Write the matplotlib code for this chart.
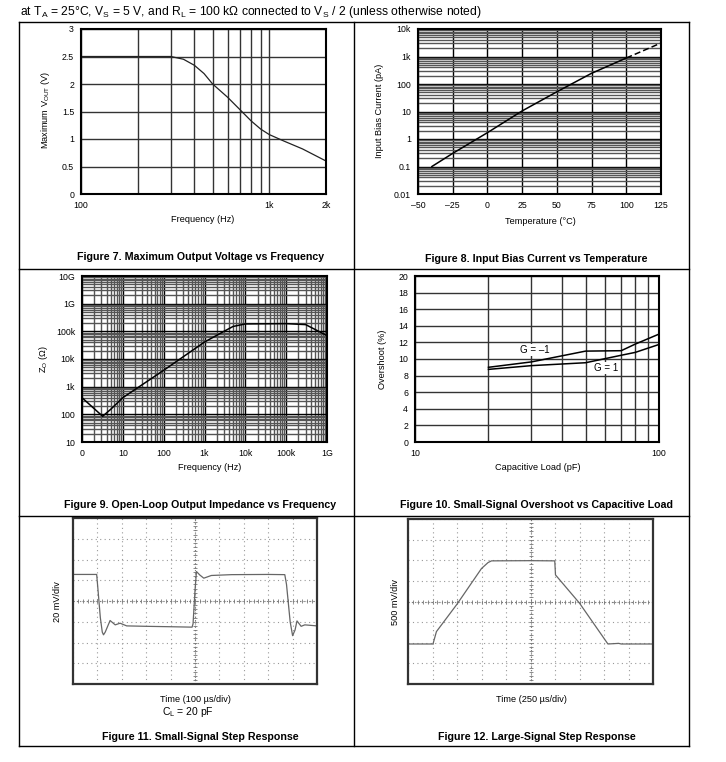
import numpy as np
import matplotlib.pyplot as plt
from matplotlib.lines import Line2D
from matplotlib.ticker import FixedLocator, NullFormatter, LogLocator

plt.rcParams['font.family'] = ['Liberation Sans', 'DejaVu Sans']
plt.rcParams['mathtext.fontset'] = 'custom'
plt.rcParams['mathtext.rm'] = 'Liberation Sans'

W, H = 726, 762                                                   # figure size in pixels
TICK, LABEL, CAPTION = 6.3, 6.6, 7.7                              # font sizes

# Figure 7 - maximum output voltage vs frequency
f7_freq = [100, 300, 350, 400, 450, 500, 600, 700, 800, 900, 1000, 1200, 1500, 2000]
f7_vout = [2.5, 2.5, 2.45, 2.34, 2.19, 2.0, 1.76, 1.53, 1.33, 1.18, 1.08, 0.96, 0.82, 0.6]

# Figure 8 - input bias current vs temperature
f8_temp = [-40, -25, 0, 25, 50, 75, 100]
f8_ib = [0.1, 0.3, 1.7, 10.5, 52, 245, 880]
f8_temp_ext = [100, 125]                                          # dashed extrapolation
f8_ib_ext = [880, 3100]

# Figure 9 - open-loop output impedance vs frequency
f9_freq = [1, 3.2, 5, 10, 100, 1000, 3000, 5000, 10000, 100000, 300000, 1000000]
f9_z = [400, 85, 150, 400, 3900, 41000, 100000, 150000, 185000, 190000, 175000, 70000]
f9_xlabels = ['0', '10', '100', '1k', '10k', '100k', '1G']
f9_ylabels = ['10', '100', '1k', '10k', '100k', '1G', '10G']

# Figure 10 - small-signal overshoot vs capacitive load
f10_cap = [20, 30, 50, 70, 80, 100]
f10_gm1 = [9.0, 9.65, 10.95, 11.0, 11.8, 13.0]
f10_g1 = [8.75, 9.2, 9.55, 10.45, 10.8, 11.75]

# Figure 11 - small-signal step (divisions)
f11_t = [0, 0.97, 1.02, 1.12, 1.2, 1.25, 1.32, 1.52, 1.73, 1.93, 2.2, 3.0, 4.0, 4.88,
         4.92, 5.0, 5.06, 5.2, 5.36, 5.67, 6.5, 8.0, 8.68, 8.75, 8.9, 9.0, 9.1, 9.18,
         9.35, 9.5, 10]
f11_v = [5.28, 5.28, 4.6, 3.2, 2.5, 2.37, 2.5, 3.06, 2.85, 2.93, 2.8, 2.78, 2.76, 2.74,
         2.9, 4.5, 5.42, 5.25, 5.1, 5.23, 5.27, 5.28, 5.27, 4.8, 3.0, 2.33, 2.6, 3.04,
         2.78, 2.85, 2.8]

# Figure 12 - large-signal step (divisions)
f12_t = [0, 1.02, 1.16, 2.0, 3.0, 3.27, 3.41, 5.0, 5.99, 6.02, 7.0, 8.16, 8.6, 8.7, 10]
f12_v = [1.94, 1.94, 2.54, 3.87, 5.6, 5.89, 5.97, 5.98, 5.97, 5.29, 3.92, 1.94, 1.97, 1.94, 1.94]


fig = plt.figure(figsize=(W / 100, H / 100), dpi=100)


def frame(x0, y0, x1, y1):                                        # axes from a pixel box
    return fig.add_axes([x0 / W, 1 - y1 / H, (x1 - x0) / W, (y1 - y0) / H])


def text(x, y, s, **kw):                                          # text at pixel position
    kw.setdefault('ha', 'center')
    kw.setdefault('va', 'center')
    fig.text(x / W, 1 - y / H, s, **kw)


def style(ax):
    ax.tick_params(which='both', length=0, labelsize=TICK, pad=5)
    for s in ax.spines.values():
        s.set_linewidth(1.5)
        s.set_color('black')
    ax.set_axisbelow(True)


def scope(ax, t, v):                                              # oscilloscope screen
    ax.set_xlim(0, 10)
    ax.set_ylim(0, 8)
    ax.set_xticks(range(11))
    ax.set_yticks(range(9))
    ax.set_xticklabels([])
    ax.set_yticklabels([])
    ax.tick_params(length=0)
    ax.grid(color='#999999', ls=(0, (1, 3)), lw=0.8)
    ax.axhline(4, color='#777777', ls=(0, (1, 2)), lw=0.8)
    ax.axvline(5, color='#777777', ls=(0, (1, 2)), lw=0.8)
    marks = np.arange(0, 10.01, 0.2)
    ax.plot(marks, np.full(len(marks), 4), ls='none', marker='|', ms=3, mew=0.6, color='#777777')
    marks = np.arange(0, 8.01, 0.2)
    ax.plot(np.full(len(marks), 5), marks, ls='none', marker='_', ms=3, mew=0.6, color='#777777')
    for s in ax.spines.values():
        s.set_linewidth(1.6)
        s.set_color('#333333')
    ax.plot(t, v, color='#666666', lw=0.9)


# Table frame
for y in [22, 269, 516, 746]:
    fig.add_artist(Line2D([19 / W, 689 / W], [1 - y / H, 1 - y / H], color='black', lw=1))
for x in [19, 354, 689]:
    fig.add_artist(Line2D([x / W, x / W], [1 - 22 / H, 1 - 746 / H], color='black', lw=1))

text(20, 12, r'at T$_\mathrm{A}$ = 25°C, V$_\mathrm{S}$ = 5 V, and R$_\mathrm{L}$ = 100 kΩ connected to V$_\mathrm{S}$ / 2 (unless otherwise noted)',
     ha='left', fontsize=8.7)

# Figure 7
ax = frame(81, 29, 326, 194)
ax.set_xscale('log')
ax.plot(f7_freq, f7_vout, color='#222222', lw=0.9)
ax.set_xlim(100, 2000)
ax.set_ylim(0, 3)
ax.xaxis.set_major_locator(FixedLocator([100, 1000, 2000]))
ax.xaxis.set_minor_locator(FixedLocator([200, 300, 400, 500, 600, 700, 800, 900]))
ax.xaxis.set_minor_formatter(NullFormatter())
ax.set_xticklabels(['100', '1k', '2k'])
ax.set_yticks([0, 0.5, 1, 1.5, 2, 2.5, 3])
ax.set_yticklabels(['0', '0.5', '1', '1.5', '2', '2.5', '3'])
ax.grid(which='both', color='#333333', lw=1.0)
style(ax)
text(203, 219, 'Frequency (Hz)', fontsize=LABEL)
text(45, 110, r'Maximum V$_\mathrm{OUT}$ (V)', fontsize=LABEL, rotation=90)
text(201, 257, 'Figure 7. Maximum Output Voltage vs Frequency', fontsize=CAPTION, weight='bold')

# Figure 8
ax = frame(418, 29, 661, 194)
ax.set_yscale('log')
ax.plot(f8_temp, f8_ib, color='black', lw=1.1)
ax.plot(f8_temp_ext, f8_ib_ext, color='black', lw=1.1, ls=(0, (4, 2)))
ax.set_xlim(-50, 125)
ax.set_ylim(0.01, 10000)
ax.set_xticks([-50, -25, 0, 25, 50, 75, 100, 125])
ax.set_xticklabels(['–50', '–25', '0', '25', '50', '75', '100', '125'])
ax.set_yticks([0.01, 0.1, 1, 10, 100, 1000, 10000])
ax.set_yticklabels(['0.01', '0.1', '1', '10', '100', '1k', '10k'])
ax.yaxis.set_minor_locator(LogLocator(subs=range(2, 10)))
ax.yaxis.set_minor_formatter(NullFormatter())
ax.grid(which='major', color='black', lw=1.0)
ax.grid(which='minor', axis='y', color='#555555', lw=1.0)
style(ax)
text(540, 221, 'Temperature (°C)', fontsize=LABEL)
text(379, 111, 'Input Bias Current (pA)', fontsize=LABEL, rotation=90)
text(536, 259, 'Figure 8. Input Bias Current vs Temperature', fontsize=CAPTION, weight='bold')

# Figure 9
ax = frame(82, 276, 327, 442)
ax.set_xscale('log')
ax.set_yscale('log')
ax.plot(f9_freq, f9_z, color='black', lw=1.1)
ax.set_xlim(1, 1e6)
ax.set_ylim(10, 1e7)
ax.xaxis.set_major_locator(FixedLocator([10.0 ** k for k in range(7)]))
ax.yaxis.set_major_locator(FixedLocator([10.0 ** k for k in range(1, 8)]))
ax.set_xticklabels(f9_xlabels)
ax.set_yticklabels(f9_ylabels)
ax.xaxis.set_minor_locator(LogLocator(subs=range(2, 10)))
ax.yaxis.set_minor_locator(LogLocator(subs=range(2, 10)))
ax.xaxis.set_minor_formatter(NullFormatter())
ax.yaxis.set_minor_formatter(NullFormatter())
ax.grid(which='major', color='black', lw=1.0)
ax.grid(which='minor', color='#555555', lw=1.0)
style(ax)
text(210, 467, 'Frequency (Hz)', fontsize=LABEL)
text(44, 359, r'Z$_\mathrm{O}$ (Ω)', fontsize=LABEL, rotation=90)
text(200, 505, 'Figure 9. Open-Loop Output Impedance vs Frequency', fontsize=CAPTION, weight='bold')

# Figure 10
ax = frame(415, 276, 659, 442)
ax.set_xscale('log')
ax.plot(f10_cap, f10_gm1, color='black', lw=1.1)
ax.plot(f10_cap, f10_g1, color='black', lw=1.1)
ax.set_xlim(10, 100)
ax.set_ylim(0, 20)
ax.xaxis.set_major_locator(FixedLocator([10, 100]))
ax.xaxis.set_minor_locator(FixedLocator([20, 30, 40, 50, 60, 70, 80, 90]))
ax.xaxis.set_minor_formatter(NullFormatter())
ax.set_xticklabels(['10', '100'])
ax.set_yticks(range(0, 21, 2))
ax.grid(which='both', color='#333333', lw=1.0)
style(ax)
ax.text(31, 11.1, 'G = –1', fontsize=7, ha='center', va='center',
        bbox=dict(facecolor='white', edgecolor='none', pad=0.5))
ax.text(60.5, 8.9, 'G = 1', fontsize=7, ha='center', va='center',
        bbox=dict(facecolor='white', edgecolor='none', pad=0.5))
text(538, 467, 'Capacitive Load (pF)', fontsize=LABEL)
text(383, 359, 'Overshoot (%)', fontsize=LABEL, rotation=90)
text(537, 505, 'Figure 10. Small-Signal Overshoot vs Capacitive Load', fontsize=CAPTION, weight='bold')

# Figure 11
ax = frame(73, 518, 317, 684)
scope(ax, f11_t, f11_v)
text(195, 699, 'Time (100 µs/div)', fontsize=LABEL)
text(188, 712, r'C$_\mathrm{L}$ = 20 pF', fontsize=7.5)
text(58, 602, '20 mV/div', fontsize=LABEL, rotation=90)
text(200, 737, 'Figure 11. Small-Signal Step Response', fontsize=CAPTION, weight='bold')

# Figure 12
ax = frame(408, 519, 653, 684)
scope(ax, f12_t, f12_v)
text(531, 699, 'Time (250 µs/div)', fontsize=LABEL)
text(396, 602, '500 mV/div', fontsize=LABEL, rotation=90)
text(537, 737, 'Figure 12. Large-Signal Step Response', fontsize=CAPTION, weight='bold')

fig.savefig('out.png', dpi=100)
